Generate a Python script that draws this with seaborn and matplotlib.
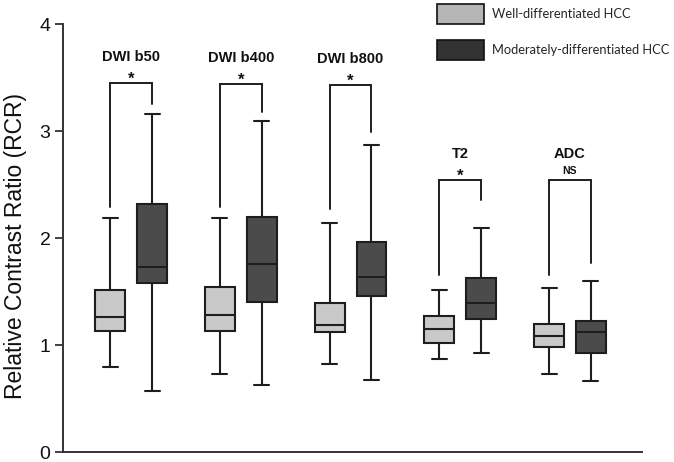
import pandas as pd
import matplotlib
matplotlib.use('Agg')
import matplotlib.pyplot as plt
from matplotlib.patches import Patch
import seaborn as sns

# Summary values (min, Q1, median, Q3, max)
sequences = ['DWI b50', 'DWI b400', 'DWI b800', 'T2', 'ADC']
groups = ['Well-differentiated HCC', 'Moderately-differentiated HCC']

well_min = [0.79, 0.73, 0.82, 0.87, 0.73]
well_q1 = [1.13, 1.13, 1.12, 1.02, 0.98]
well_med = [1.26, 1.28, 1.19, 1.15, 1.08]
well_q3 = [1.51, 1.545, 1.39, 1.27, 1.20]
well_max = [2.19, 2.19, 2.14, 1.51, 1.53]

mod_min = [0.57, 0.63, 0.67, 0.93, 0.66]
mod_q1 = [1.58, 1.40, 1.46, 1.24, 0.925]
mod_med = [1.73, 1.76, 1.635, 1.39, 1.12]
mod_q3 = [2.32, 2.20, 1.965, 1.63, 1.22]
mod_max = [3.16, 3.09, 2.87, 2.09, 1.60]

# significance brackets
sig_marks = ['*', '*', '*', '*', 'NS']
bracket_top = [3.45, 3.44, 3.43, 2.54, 2.54]
bracket_left = [2.29, 2.29, 2.27, 1.65, 1.65]
bracket_right = [3.25, 3.18, 2.99, 2.36, 1.77]

# Five points per box: with whiskers at 0/100 percentiles the box reproduces the summary
rows = []
for i, seq in enumerate(sequences):
    for v in [well_min[i], well_q1[i], well_med[i], well_q3[i], well_max[i]]:
        rows.append({'Sequence': seq, 'Group': groups[0], 'RCR': v})
    for v in [mod_min[i], mod_q1[i], mod_med[i], mod_q3[i], mod_max[i]]:
        rows.append({'Sequence': seq, 'Group': groups[1], 'RCR': v})
df = pd.DataFrame(rows)

sns.set_style('white')
plt.rcParams['font.family'] = ['Liberation Sans', 'DejaVu Sans']
fig = plt.figure(figsize=(6.74, 4.62), dpi=100)
ax = fig.add_axes([0.0935, 0.0216, 0.859, 0.9264])

edge = '#1e1e1e'
sns.boxplot(data=df, x='Sequence', y='RCR', hue='Group', order=sequences,
            hue_order=groups, palette=['#c9c9c9', '#4b4b4b'], whis=(0, 100),
            width=0.764, gap=0.285, linewidth=1.5, linecolor=edge,
            legend=False, ax=ax)

dx = 0.191
for i in range(len(sequences)):
    xl, xr = i - dx, i + dx
    ax.plot([xl, xl, xr, xr], [bracket_left[i], bracket_top[i], bracket_top[i], bracket_right[i]],
            color=edge, lw=1.4, solid_joinstyle='miter')
    if sig_marks[i] == '*':
        ax.text(i, bracket_top[i] - 0.035, '*', ha='center', va='bottom', fontsize=12,
                fontweight='bold', color='#111')
    else:
        ax.text(i, bracket_top[i] + 0.035, 'NS', ha='center', va='bottom', fontsize=7.5,
                fontweight='bold', color='#111')
    ax.text(i, bracket_top[i] + 0.245, sequences[i], ha='center', va='center', fontsize=10.5,
            fontweight='bold', color='#111')

ax.set_xlim(-0.62, 4.656)
ax.set_ylim(0, 4)
ax.set_yticks([0, 1, 2, 3, 4])
ax.set_xticks([])
ax.set_xlabel('')
ax.set_ylabel('Relative Contrast Ratio (RCR)', fontsize=16.5, color='#111')
ax.yaxis.set_label_coords(-0.063, 0.481)
ax.tick_params(axis='y', direction='out', length=6, width=1.3, labelsize=14,
               left=True, color='#333', labelcolor='#111', pad=3)
for s in ['top', 'right']:
    ax.spines[s].set_visible(False)
for s in ['left', 'bottom']:
    ax.spines[s].set_linewidth(1.4)
    ax.spines[s].set_color('#333')

handles = [Patch(facecolor='#b5b5b5', edgecolor='#111', lw=1.2),
           Patch(facecolor='#333333', edgecolor='#111', lw=1.2)]
fig.legend(handles, groups, loc='upper left', bbox_to_anchor=(0.6306, 1.017),
           frameon=False, handlelength=3.64, handleheight=2.05, handletextpad=0.62,
           labelspacing=1.2, prop={'family': 'Lato', 'size': 9.3})

fig.savefig('out.png', dpi=100)
